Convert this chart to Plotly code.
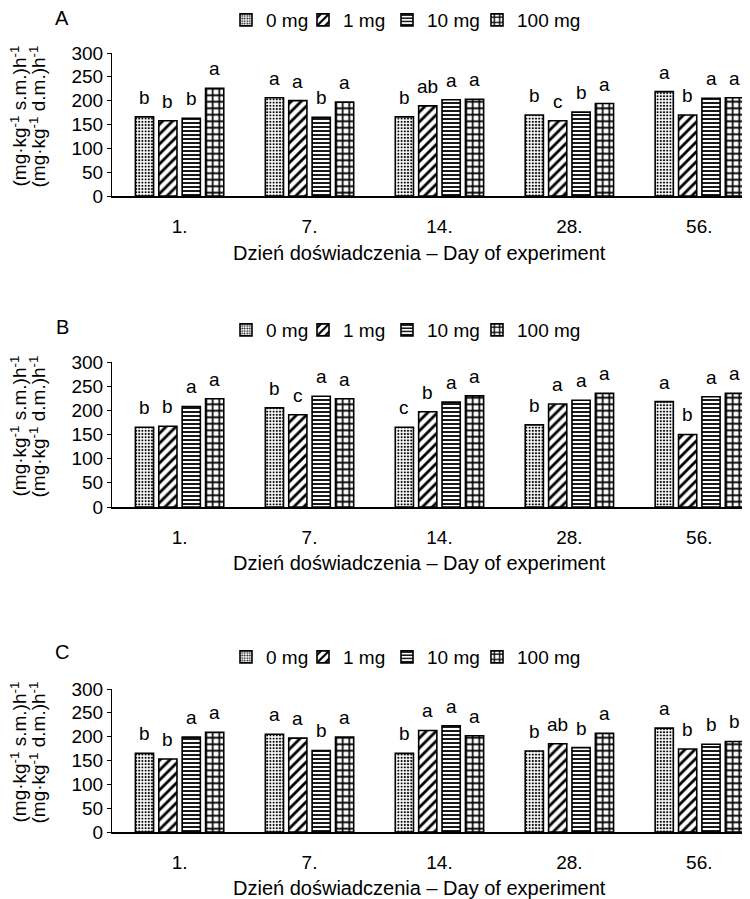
import plotly.graph_objects as go

# page has an 8px body margin, so the figure is shrunk by it to fit the window
OFF = 8
W, H = 750 - OFF, 899 - OFF

days = ["1.", "7.", "14.", "28.", "56."]
doses = ["0 mg", "1 mg", "10 mg", "100 mg"]
panels = ["A", "B", "C"]

# Panel A values
a_0mg = [166, 206, 166, 170, 219]
a_1mg = [158, 200, 189, 158, 170]
a_10mg = [163, 165, 202, 176, 205]
a_100mg = [226, 197, 203, 194, 206]
# Panel B values
b_0mg = [165, 205, 165, 170, 218]
b_1mg = [167, 191, 197, 213, 150]
b_10mg = [208, 229, 217, 221, 228]
b_100mg = [224, 224, 230, 235, 235]
# Panel C values
c_0mg = [165, 205, 165, 170, 218]
c_1mg = [153, 197, 213, 185, 174]
c_10mg = [199, 171, 223, 177, 184]
c_100mg = [209, 199, 202, 207, 190]

# Significance letters
a_0mg_l = ["b", "a", "b", "b", "a"]
a_1mg_l = ["b", "a", "ab", "c", "b"]
a_10mg_l = ["b", "b", "a", "b", "a"]
a_100mg_l = ["a", "a", "a", "a", "a"]
b_0mg_l = ["b", "b", "c", "b", "a"]
b_1mg_l = ["b", "c", "b", "a", "b"]
b_10mg_l = ["a", "a", "a", "a", "a"]
b_100mg_l = ["a", "a", "a", "a", "a"]
c_0mg_l = ["b", "a", "b", "b", "a"]
c_1mg_l = ["b", "a", "a", "ab", "b"]
c_10mg_l = ["a", "b", "a", "b", "b"]
c_100mg_l = ["a", "a", "a", "a", "b"]

panel_values = [
    [a_0mg, a_1mg, a_10mg, a_100mg],
    [b_0mg, b_1mg, b_10mg, b_100mg],
    [c_0mg, c_1mg, c_10mg, c_100mg],
]
panel_letters = [
    [a_0mg_l, a_1mg_l, a_10mg_l, a_100mg_l],
    [b_0mg_l, b_1mg_l, b_10mg_l, b_100mg_l],
    [c_0mg_l, c_1mg_l, c_10mg_l, c_100mg_l],
]

FONT = "Liberation Sans, Arial, sans-serif"
FS = 19

patterns = [
    dict(shape=".", size=3.2, solidity=0.35, fgcolor="black", bgcolor="white"),
    dict(shape="/", size=7, solidity=0.4, fgcolor="black", bgcolor="white"),
    dict(shape="-", size=4, solidity=0.45, fgcolor="black", bgcolor="white"),
    dict(shape="+", size=6.5, solidity=0.45, fgcolor="black", bgcolor="white"),
]

bar_w = 0.14
centers = [-0.27, -0.09, 0.09, 0.27]

# screen-pixel layout of each panel: (top, bottom) of plot area
panel_px = [(53, 196), (362, 507), (689, 832)]
legend_y_px = [20, 330, 657]
legend_x_px = [226, 303, 387, 477]   # left edge of each legend entry
letter_y_px = [18, 327, 652]
xtitle_y_px = [253, 563, 888]
x_left_px, x_right_px = 112, 750


def px_x(x):
    return (x - OFF) / W


def px_y(y):
    return 1 - (y - OFF) / H


fig = go.Figure()
annotations = []
legends = {}

for p in range(3):
    xa = "x" if p == 0 else f"x{p+1}"
    ya = "y" if p == 0 else f"y{p+1}"
    for j, dose in enumerate(doses):
        vals = panel_values[p][j]
        k = p * len(doses) + j + 1
        lname = "legend" if k == 1 else f"legend{k}"
        legends[lname] = dict(
            orientation="h", x=px_x(legend_x_px[j]), y=px_y(legend_y_px[p]),
            xanchor="left", yanchor="middle", bgcolor="rgba(0,0,0,0)",
            font=dict(family=FONT, size=FS, color="black"),
            itemwidth=30,
        )
        fig.add_trace(go.Bar(
            x=list(range(len(days))), y=vals, name=dose,
            xaxis=xa, yaxis=ya, legend=lname,
            width=bar_w, offset=centers[j] - bar_w / 2,
            marker=dict(color="white", pattern=patterns[j],
                        line=dict(color="black", width=1.6)),
            showlegend=True, hoverinfo="skip",
        ))
        for i, (v, lab) in enumerate(zip(vals, panel_letters[p][j])):
            annotations.append(dict(
                x=i + centers[j], y=v, xref=xa, yref=ya, text=lab,
                showarrow=False, yanchor="bottom", yshift=7,
                font=dict(family=FONT, size=FS, color="black"),
            ))
    top, bot = panel_px[p]
    xdom = [px_x(x_left_px), px_x(x_right_px)]
    ydom = [px_y(bot), px_y(top)]
    xkey = "xaxis" if p == 0 else f"xaxis{p+1}"
    ykey = "yaxis" if p == 0 else f"yaxis{p+1}"
    fig.update_layout(**{
        xkey: dict(domain=xdom, anchor=ya, range=[-0.52, 4.39],
                   tickmode="array", tickvals=list(range(len(days))), ticktext=days,
                   showline=True, linecolor="black", linewidth=1.6,
                   ticks="outside", ticklen=12, tickcolor="rgba(0,0,0,0)",
                   showgrid=False, zeroline=False, automargin=False,
                   tickfont=dict(family=FONT, size=FS, color="black")),
        ykey: dict(domain=ydom, anchor=xa, range=[0, 300], dtick=50,
                   showline=True, linecolor="black", linewidth=1.2,
                   ticks="outside", ticklen=4, tickcolor="black",
                   showgrid=False, zeroline=False, automargin=False,
                   tickfont=dict(family=FONT, size=FS, color="black")),
    })
    # panel letter
    annotations.append(dict(
        x=px_x(62), y=px_y(letter_y_px[p]), xref="paper", yref="paper",
        text=panels[p], showarrow=False, xanchor="center", yanchor="middle",
        font=dict(family=FONT, size=20, color="black")))
    # x axis title
    annotations.append(dict(
        x=px_x(419), y=px_y(xtitle_y_px[p]), xref="paper", yref="paper",
        text="Dzień doświadczenia – Day of experiment", showarrow=False,
        xanchor="center", yanchor="middle",
        font=dict(family=FONT, size=20, color="black")))
    # y axis title (two lines)
    ycen = (top + bot) / 2 - 8
    annotations.append(dict(
        x=px_x(18), y=px_y(ycen), xref="paper", yref="paper",
        text="(mg·kg<sup>-1</sup> s.m.)h<sup>-1</sup>", showarrow=False,
        textangle=-90, xanchor="center", yanchor="middle",
        font=dict(family=FONT, size=19, color="black")))
    annotations.append(dict(
        x=px_x(37), y=px_y(ycen), xref="paper", yref="paper",
        text="(mg·kg<sup>-1</sup> d.m.)h<sup>-1</sup>", showarrow=False,
        textangle=-90, xanchor="center", yanchor="middle",
        font=dict(family=FONT, size=19, color="black")))

fig.update_layout(**legends)
fig.update_layout(
    template="none",
    width=W, height=H, margin=dict(l=0, r=0, t=0, b=0, autoexpand=False),
    paper_bgcolor="white", plot_bgcolor="white",
    barmode="overlay", annotations=annotations,
    font=dict(family=FONT, size=FS, color="black"),
)

fig.write_html("out.html")
